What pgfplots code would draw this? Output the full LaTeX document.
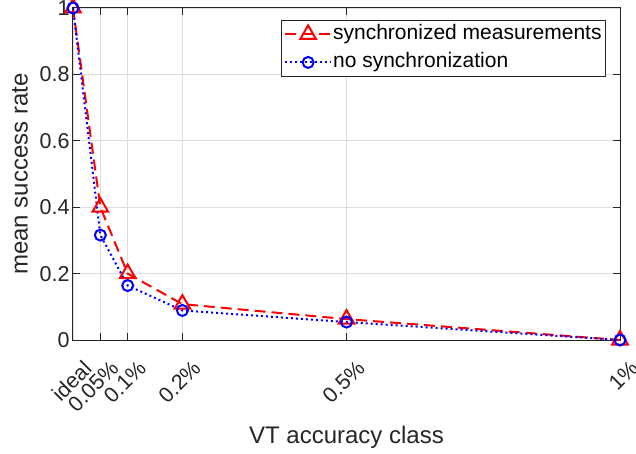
\documentclass[border=0pt]{standalone}
\usepackage{fontspec}
\setmainfont{Liberation Sans}
\usepackage{pgfplots}
\pgfplotsset{compat=1.18}
\definecolor{axgray}{gray}{0.15}
\definecolor{gridgray}{gray}{0.87}
\begin{document}
\begin{tikzpicture}
\begin{axis}[
  scale only axis, width=547pt, height=332pt,
  xmin=0, xmax=1, ymin=0, ymax=1,
  xtick={0,0.05,0.1,0.2,0.5,1},
  xticklabels={ideal,0.05\%,0.1\%,0.2\%,0.5\%,1\%},
  ytick={0,0.2,0.4,0.6,0.8,1},
  yticklabels={0,0.2,0.4,0.6,0.8,1},
  xticklabel style={xshift=9pt, yshift=-19pt, rotate=45, anchor=north east, inner sep=0pt, font=\fontsize{21.5}{24}\selectfont, text=axgray},
  yticklabel style={font=\fontsize{21.5}{24}\selectfont, text=axgray},
  grid=major, major grid style={gridgray, line width=0.8pt},
  axis line style={axgray, line width=1pt},
  tick style={axgray, line width=1pt},
  major tick length=7pt,
  tick align=inside,
  xlabel={VT accuracy class}, ylabel={mean success rate},
  xlabel style={at={(axis description cs:0.5,-0.292)}, anchor=center, font=\fontsize{24}{27}\selectfont, text=axgray},
  ylabel style={at={(axis description cs:-0.097,0.5)}, anchor=center, font=\fontsize{24}{27}\selectfont, text=axgray},
  legend style={at={(1,1)}, xshift=-14pt, yshift=-12pt, anchor=north east, draw=axgray, line width=0.8pt, font=\fontsize{21}{24}\selectfont, inner sep=3pt, row sep=6pt, nodes={text height=15pt, text depth=5pt, inner sep=1pt}},
  legend cell align=left,
  legend image code/.code={\draw[#1, mark repeat=2, mark phase=2] plot coordinates {(0pt,0pt) (23pt,0pt) (46pt,0pt)};},
]
\addplot[red, line width=2pt, dash pattern=on 11pt off 6pt, mark=triangle, mark size=9pt, mark options={solid, line width=2pt}]
  coordinates {(0,1.0) (0.05,0.400) (0.1,0.200) (0.2,0.108) (0.5,0.063) (1,0.0)};
\addlegendentry{synchronized measurements}
\addplot[blue, line width=2pt, dash pattern=on 2pt off 3pt, mark=o, mark size=5.5pt, mark options={solid, line width=2pt}]
  coordinates {(0,1.0) (0.05,0.316) (0.1,0.164) (0.2,0.089) (0.5,0.054) (1,0.0)};
\addlegendentry{no synchronization}
\end{axis}
\pgfresetboundingbox
\path (current axis.south west) ++(-73pt,-113pt) rectangle ++(636pt,453pt);
\end{tikzpicture}
\end{document}
